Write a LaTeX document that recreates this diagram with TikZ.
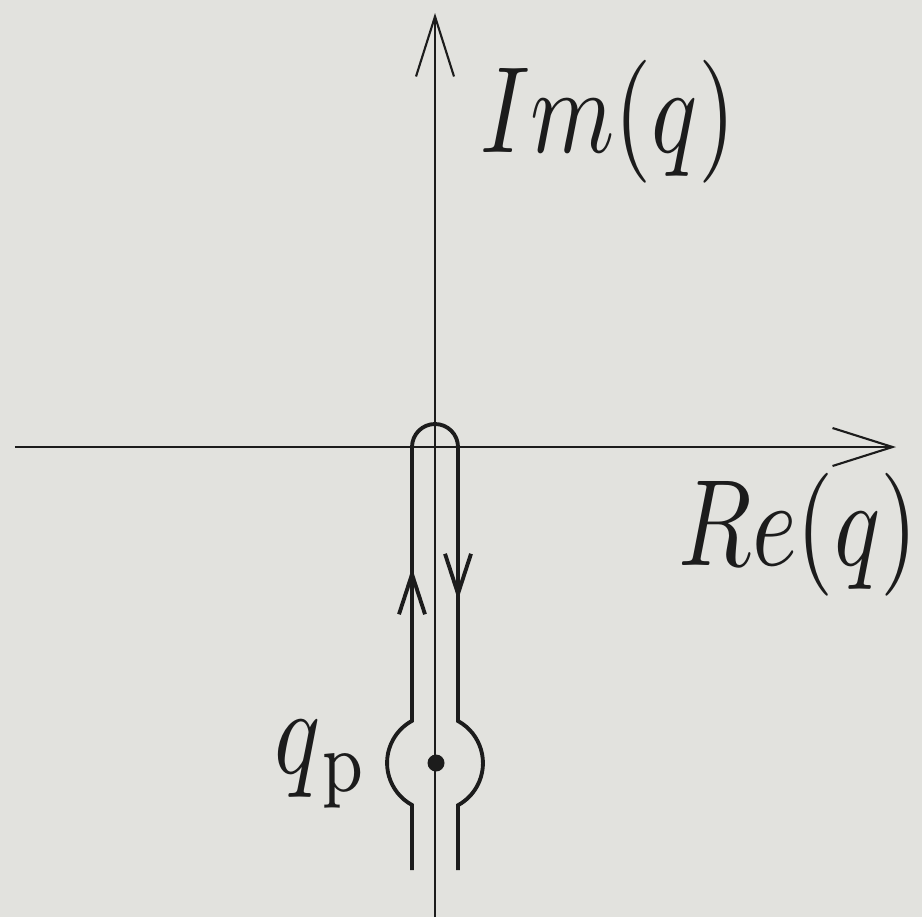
\documentclass[tikz,border=0pt]{standalone}
\usepackage{graphicx}
\usetikzlibrary{arrows.meta,positioning}
\definecolor{paper}{RGB}{226,226,222}
\definecolor{ink}{RGB}{28,28,28}
\newcommand{\biglbl}[1]{\scalebox{2.73}[3.5]{#1}}

\begin{document}
\begin{tikzpicture}[
  axis/.style={draw=ink, line width=0.6pt, -{Straight Barb[length=0.6cm, width=0.38cm]}},
  loopline/.style={draw=ink, line width=1.1pt},
  flow/.style={draw=ink, line width=1.1pt, -{Straight Barb[length=0.4cm, width=0.26cm]}},
  lbl/.style={inner sep=0pt, text=ink},
  pole/.style={circle, fill=ink, inner sep=0pt, minimum size=0.17cm}
]
  \fill[paper] (0,0) rectangle (9.22,9.17);
  \useasboundingbox (0,0) rectangle (9.22,9.17);

  % axes
  \coordinate (O) at (4.35,4.70);
  \coordinate (xl) at (0.15,4.70);
  \coordinate (xr) at (8.96,4.70);
  \coordinate (yb) at (4.35,0);
  \coordinate (yt) at (4.35,9.04);
  \draw[axis] (xl) -- (xr);
  \draw[axis] (yb) -- (yt);

  % pole and contour
  \node[pole] (qp) at (4.36,1.54) {};
  \draw[loopline] (4.12,0.47) -- (4.12,1.12)
      arc[start angle=241.3, end angle=118.7, radius=0.48]
      -- (4.12,4.70)
      arc[start angle=180, end angle=0, radius=0.23]
      -- (4.58,1.96)
      arc[start angle=61.3, end angle=-61.3, radius=0.48]
      -- (4.58,0.47);

  % direction marks
  \coordinate (upa) at (4.12,3.10);
  \coordinate (upb) at (4.12,3.49);
  \coordinate (dna) at (4.58,3.60);
  \coordinate (dnb) at (4.58,3.17);
  \draw[flow] (upa) -- (upb);
  \draw[flow] (dna) -- (dnb);

  % labels
  \node[lbl, anchor=base west] (imlbl) at (4.80,7.65) {\biglbl{$Im(q)$}};
  \node[lbl, anchor=base west] (relbl) at (6.78,3.52) {\biglbl{$Re(q)$}};
  \node[lbl, anchor=base west] (qplbl) at (2.74,1.44) {\biglbl{$q_{\mkern1mu\mathrm{p}}$}};
\end{tikzpicture}
\end{document}
